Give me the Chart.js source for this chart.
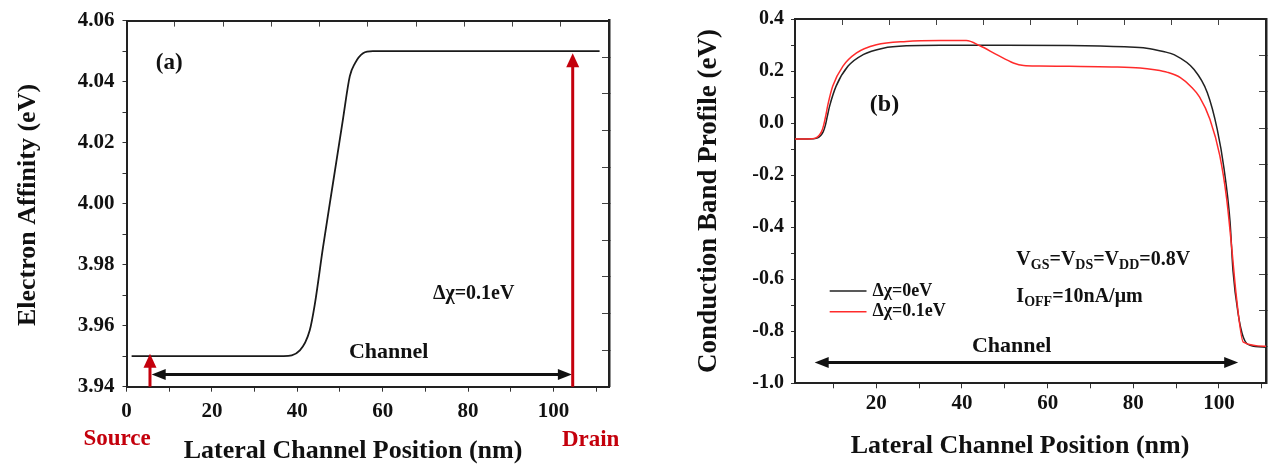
<!DOCTYPE html>
<html>
<head>
<meta charset="utf-8">
<script src="https://cdn.jsdelivr.net/npm/chart.js@4.4.1/dist/chart.umd.min.js"></script>
<style>
  html, body { margin: 0; padding: 0; background: #fff; }
  #wrap { position: relative; width: 1273px; height: 469px; overflow: hidden; background: #fff; }
  canvas { position: absolute; top: 0; }
  #panelA { left: 0; }
  #panelB { left: 650px; }
</style>
</head>
<body>
<div id="wrap">
  <canvas id="panelA" width="650" height="469"></canvas>
  <canvas id="panelB" width="623" height="469"></canvas>
</div>
<script>
// ---- Panel (a): electron affinity along the channel (nm, eV) ----
const affinityX = [1.2, 36.8, 40.6, 42.9, 44.1, 46.0, 48.4, 50.7, 52.3, 53.5, 55.4, 57.7, 110.8];
const affinityY = [3.950, 3.950, 3.9519, 3.9584, 3.967, 3.9855, 4.0071, 4.0277, 4.0418, 4.046, 4.0493, 4.050, 4.050];

// ---- Panel (b): conduction band profile (nm, eV) ----
const bandX_d0 = [1, 5.4, 6.3, 7.0, 7.6, 8.1, 8.6, 9.1, 10.6, 13.4, 16.9, 21.6, 27, 35, 50, 65, 78, 83.1, 87, 89.5, 94.2, 97.3, 99.6, 101.2, 102.6, 103.3, 104.5, 105.7, 107.3, 111];
const bandY_d0 = [-0.061, -0.060, -0.057, -0.048, -0.033, -0.008, 0.030, 0.066, 0.142, 0.219, 0.263, 0.288, 0.297, 0.299, 0.299, 0.298, 0.293, 0.288, 0.275, 0.263, 0.206, 0.117, -0.023, -0.175, -0.378, -0.569, -0.733, -0.823, -0.854, -0.861];
const bandX_d1 = [1, 5.0, 5.9, 6.6, 7.2, 7.7, 8.2, 8.7, 9.8, 12.2, 15.3, 20, 27, 35, 41, 44.2, 48.1, 52, 54.4, 58, 65, 75, 81.6, 85, 88, 91, 93.5, 95.5, 97.9, 100.2, 101.8, 103, 104.1, 105.7, 111];
const bandY_d1 = [-0.061, -0.060, -0.057, -0.048, -0.033, -0.008, 0.030, 0.072, 0.142, 0.219, 0.269, 0.301, 0.314, 0.317, 0.317, 0.297, 0.263, 0.231, 0.221, 0.219, 0.218, 0.216, 0.212, 0.205, 0.195, 0.175, 0.140, 0.100, 0.015, -0.124, -0.289, -0.480, -0.670, -0.842, -0.858];

// ---- tick positions ----
const xTicksA = [0, 10, 20, 30, 40, 50, 60, 70, 80, 90, 100, 110];
const yTicksA = [394, 395, 396, 397, 398, 399, 400, 401, 402, 403, 404, 405, 406].map(v => v / 100);
const xTicksB = [10, 20, 30, 40, 50, 60, 70, 80, 90, 100, 110];
const yTicksB = [-10, -9, -8, -7, -6, -5, -4, -3, -2, -1, 0, 1, 2, 3, 4].map(v => v / 10);
const frameTicks = [1, 2, 3, 4, 5, 6, 7, 8, 9];

// ---- annotation arrows (data units) ----
const sourceArrow = { x: 5.5, from: 3.94, to: 3.9508 };
const drainArrow = { x: 104.5, from: 3.94, to: 4.0493 };
const channelA = { y: 3.944, from: 5.9, to: 104.3 };
const channelB = { y: -0.92, from: 5.6, to: 104.5 };

const SERIF = '"Liberation Serif", "Times New Roman", serif';
const INK = '#111';
const DARK_RED = '#c4000c';
const LINE_RED = '#ff2b2b';

function f(size) { return 'bold ' + size + 'px ' + SERIF; }

function frameScales(o) {
  const tickFont = { family: SERIF, size: o.tickSize, weight: 'bold' };
  return {
    x: {
      type: 'linear', position: 'bottom', min: o.xMin, max: o.xMax,
      afterBuildTicks: s => { s.ticks = o.xTicks.map(v => ({ value: v })); },
      afterFit: s => { s.height = o.bottom; },
      ticks: { autoSkip: false, maxRotation: 0, padding: o.xPad, color: INK, font: tickFont,
               callback: v => (Math.round(v) % 20 === 0 ? String(Math.round(v)) : '') },
      grid: { drawOnChartArea: false, tickLength: 5, color: '#333', lineWidth: 1 },
      border: { color: '#222', width: 2 }
    },
    xTop: {
      type: 'linear', position: 'top', min: 0, max: 10,
      afterBuildTicks: s => { s.ticks = frameTicks.map(v => ({ value: v })); },
      afterFit: s => { s.height = o.top; },
      ticks: { display: false },
      grid: { drawOnChartArea: false, tickLength: -6, color: '#444', lineWidth: 1 },
      border: { color: '#222', width: 2 }
    },
    y: {
      type: 'linear', position: 'left', min: o.yMin, max: o.yMax,
      afterBuildTicks: s => { s.ticks = o.yTicks.map(v => ({ value: v })); },
      afterFit: s => { s.width = o.left; },
      ticks: { autoSkip: false, padding: o.yPad, color: INK,
               font: { family: SERIF, size: o.yTickSize, weight: 'bold' }, callback: o.yLabel },
      grid: { drawOnChartArea: false, tickLength: 4, color: '#333', lineWidth: 1 },
      border: { color: '#222', width: 2 }
    },
    yRight: {
      type: 'linear', position: 'right', min: 0, max: 10,
      afterBuildTicks: s => { s.ticks = frameTicks.map(v => ({ value: v })); },
      afterFit: s => { s.width = o.right; },
      ticks: { display: false },
      grid: { drawOnChartArea: false, tickLength: -7, color: '#444', lineWidth: 1 },
      border: { color: '#222', width: 2.5 }
    }
  };
}

function toPoints(xs, ys) { return xs.map((x, i) => ({ x: x, y: ys[i] })); }

function drawText(ctx, str, x, y, size, color, align, baseline) {
  ctx.save();
  ctx.font = f(size);
  ctx.fillStyle = color;
  ctx.textAlign = align || 'center';
  ctx.textBaseline = baseline || 'middle';
  ctx.fillText(str, x, y);
  ctx.restore();
}

function drawRotated(ctx, str, cx, cy, size) {
  ctx.save();
  ctx.translate(cx, cy);
  ctx.rotate(-Math.PI / 2);
  ctx.font = f(size);
  ctx.fillStyle = INK;
  ctx.textAlign = 'center';
  ctx.textBaseline = 'middle';
  ctx.fillText(str, 0, 0);
  ctx.restore();
}

// text with subscripts: parts = [[text, isSub], ...], x is left edge, y is baseline
function drawSubText(ctx, parts, x, y, size, subSize) {
  ctx.save();
  ctx.fillStyle = INK;
  ctx.textAlign = 'left';
  ctx.textBaseline = 'alphabetic';
  let cx = x;
  parts.forEach(p => {
    ctx.font = f(p[1] ? subSize : size);
    ctx.fillText(p[0], cx, p[1] ? y + 4 : y);
    cx += ctx.measureText(p[0]).width;
  });
  ctx.restore();
}

function head(ctx, x, y, ang, len, half) {
  const c = Math.cos(ang), s = Math.sin(ang);
  ctx.beginPath();
  ctx.moveTo(x, y);
  ctx.lineTo(x - len * c + half * s, y - len * s - half * c);
  ctx.lineTo(x - len * c - half * s, y - len * s + half * c);
  ctx.closePath();
  ctx.fill();
}

function vArrow(ctx, xs, ys, a, color) {
  const px = xs.getPixelForValue(a.x);
  const y0 = ys.getPixelForValue(a.from);
  const y1 = ys.getPixelForValue(a.to);
  ctx.save();
  ctx.strokeStyle = color; ctx.fillStyle = color; ctx.lineWidth = 3;
  ctx.beginPath(); ctx.moveTo(px, y0); ctx.lineTo(px, y1 + 12); ctx.stroke();
  head(ctx, px, y1, -Math.PI / 2, 14, 6.5);
  ctx.restore();
}

function hDoubleArrow(ctx, xs, ys, a) {
  const py = ys.getPixelForValue(a.y);
  const x0 = xs.getPixelForValue(a.from);
  const x1 = xs.getPixelForValue(a.to);
  ctx.save();
  ctx.strokeStyle = INK; ctx.fillStyle = INK; ctx.lineWidth = 3;
  ctx.beginPath(); ctx.moveTo(x0 + 10, py); ctx.lineTo(x1 - 10, py); ctx.stroke();
  head(ctx, x0, py, Math.PI, 14, 5.5);
  head(ctx, x1, py, 0, 14, 5.5);
  ctx.restore();
}

// ---------------- Panel (a) ----------------
const annotateA = {
  id: 'annotateA',
  afterDraw(chart) {
    const ctx = chart.ctx, xs = chart.scales.x, ys = chart.scales.y;
    const X = v => xs.getPixelForValue(v), Y = v => ys.getPixelForValue(v);
    drawText(ctx, '(a)', X(10), Y(4.046), 23, INK);
    drawText(ctx, '\u0394\u03C7=0.1eV', X(81.3), Y(3.9704), 20, INK);
    drawText(ctx, 'Channel', X(61.4), Y(3.9512), 22, INK);
    hDoubleArrow(ctx, xs, ys, channelA);
    vArrow(ctx, xs, ys, sourceArrow, DARK_RED);
    vArrow(ctx, xs, ys, drainArrow, DARK_RED);
    drawText(ctx, 'Source', X(-2.2), Y(3.923), 23, DARK_RED);
    drawText(ctx, 'Drain', X(108.7), Y(3.9224), 23, DARK_RED);
    drawText(ctx, 'Lateral Channel Position (nm)', 353, 451, 26, INK);
    drawRotated(ctx, 'Electron Affinity (eV)', 28, 205, 26);
  }
};

new Chart(document.getElementById('panelA'), {
  type: 'scatter',
  data: {
    datasets: [{
      data: toPoints(affinityX, affinityY),
      showLine: true, borderColor: '#1a1a1a', borderWidth: 1.8,
      pointRadius: 0, cubicInterpolationMode: 'monotone', fill: false
    }]
  },
  options: {
    responsive: false, animation: false, devicePixelRatio: 1, events: [],
    layout: { padding: 0 },
    plugins: { legend: { display: false }, tooltip: { enabled: false } },
    scales: frameScales({
      xMin: 0, xMax: 113, yMin: 3.94, yMax: 4.06,
      xTicks: xTicksA, yTicks: yTicksA,
      left: 126.5, right: 41, top: 17, bottom: 82.3,
      tickSize: 21, yTickSize: 21, xPad: 7, yPad: 8,
      yLabel: v => (Math.round(v * 100) % 2 === 0 ? v.toFixed(2) : '')
    })
  },
  plugins: [annotateA]
});

// ---------------- Panel (b) ----------------
const annotateB = {
  id: 'annotateB',
  afterDraw(chart) {
    const ctx = chart.ctx, xs = chart.scales.x, ys = chart.scales.y;
    const X = v => xs.getPixelForValue(v), Y = v => ys.getPixelForValue(v);
    drawText(ctx, '(b)', X(21.9), Y(0.071), 24, INK);
    drawSubText(ctx, [['V', 0], ['GS', 1], ['=V', 0], ['DS', 1], ['=V', 0], ['DD', 1], ['=0.8V', 0]],
                X(52.7), Y(-0.544), 20, 14);
    drawSubText(ctx, [['I', 0], ['OFF', 1], ['=10nA/\u03BCm', 0]], X(52.7), Y(-0.689), 20, 14);
    drawText(ctx, 'Channel', X(51.6), Y(-0.858), 22, INK);
    hDoubleArrow(ctx, xs, ys, channelB);
    // legend
    const legend = [['\u0394\u03C7=0eV', '#222', -0.645], ['\u0394\u03C7=0.1eV', LINE_RED, -0.725]];
    legend.forEach(e => {
      ctx.save();
      ctx.strokeStyle = e[1]; ctx.lineWidth = 1.5;
      ctx.beginPath(); ctx.moveTo(X(9.1), Y(e[2])); ctx.lineTo(X(17.7), Y(e[2])); ctx.stroke();
      ctx.restore();
      drawText(ctx, e[0], X(19.1), Y(e[2]), 18, INK, 'left', 'middle');
    });
    drawText(ctx, 'Lateral Channel Position (nm)', 370, 446, 26, INK);
    drawRotated(ctx, 'Conduction Band Profile (eV)', 59, 201, 27);
  }
};

new Chart(document.getElementById('panelB'), {
  type: 'scatter',
  data: {
    datasets: [
      { label: '\u0394\u03C7=0eV', data: toPoints(bandX_d0, bandY_d0), order: 1,
        showLine: true, borderColor: '#222', borderWidth: 1.5, pointRadius: 0,
        cubicInterpolationMode: 'monotone', fill: false },
      { label: '\u0394\u03C7=0.1eV', data: toPoints(bandX_d1, bandY_d1), order: 0,
        showLine: true, borderColor: LINE_RED, borderWidth: 1.5, pointRadius: 0,
        cubicInterpolationMode: 'monotone', fill: false }
    ]
  },
  options: {
    responsive: false, animation: false, devicePixelRatio: 1, events: [],
    layout: { padding: 0 },
    plugins: { legend: { display: false }, tooltip: { enabled: false } },
    scales: frameScales({
      xMin: 1, xMax: 111, yMin: -1.0, yMax: 0.4,
      xTicks: xTicksB, yTicks: yTicksB,
      left: 145, right: 7, top: 15.7, bottom: 85.7,
      tickSize: 21, yTickSize: 20, xPad: 3, yPad: 7,
      yLabel: v => (Math.round(v * 10) % 2 === 0 ? v.toFixed(1) : '')
    })
  },
  plugins: [annotateB]
});
</script>
</body>
</html>
